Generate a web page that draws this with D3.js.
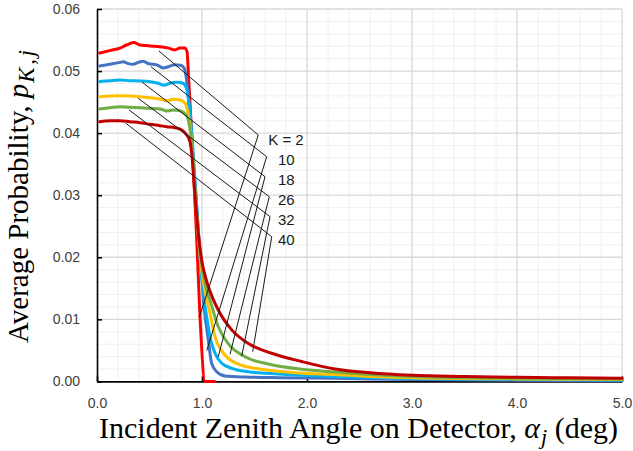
<!DOCTYPE html>
<html>
<head>
<meta charset="utf-8">
<script src="https://cdn.jsdelivr.net/npm/d3@7"></script>
<style>
  html, body { margin: 0; padding: 0; background: #ffffff; }
  svg { display: block; }
</style>
</head>
<body>
<svg id="chart" width="633" height="451"></svg>
<script>
// Average probability p(K,j) versus incident zenith angle alpha_j (deg), one series per K.
const seriesNames = ["K = 2", "10", "18", "26", "32", "40"];
const seriesColors = ["#ff0000", "#4472c4", "#00b0f0", "#ffc000", "#70ad47", "#c00000"];

const alphaK2 = [0.025, 0.12, 0.22, 0.28, 0.35, 0.41, 0.47, 0.55, 0.60, 0.68, 0.74, 0.79, 0.835, 0.858, 0.872, 0.905, 0.950, 0.981, 1.03, 1.12];
const probK2  = [0.0529, 0.0533, 0.0537, 0.0542, 0.0546, 0.0542, 0.0541, 0.0540, 0.0539, 0.0537, 0.0534, 0.0537, 0.0537, 0.0531, 0.0490, 0.0389, 0.0228, 0.0104, 0.0, 0.0];

const alphaK10 = [0.025, 0.124, 0.219, 0.25, 0.298, 0.346, 0.393, 0.441, 0.489, 0.569, 0.631, 0.679, 0.743, 0.803, 0.829, 0.850, 0.870, 0.905, 0.950, 0.990, 1.020, 1.060, 1.092, 1.14, 1.219, 1.41, 1.743, 2.267, 3.0, 4.0, 5.0];
const probK10  = [0.0508, 0.0511, 0.0514, 0.0515, 0.0512, 0.0511, 0.0514, 0.0516, 0.0512, 0.0510, 0.0505, 0.0507, 0.0510, 0.0509, 0.0505, 0.0490, 0.0455, 0.0380, 0.0280, 0.0185, 0.0120, 0.0067, 0.0029, 0.00156, 0.00087, 0.0007, 0.0006, 0.0005, 0.0003, 0.0002, 0.00012];

const alphaK18 = [0.025, 0.124, 0.219, 0.314, 0.41, 0.505, 0.584, 0.638, 0.695, 0.759, 0.819, 0.850, 0.876, 0.905, 0.943, 0.981, 1.019, 1.05, 1.076, 1.124, 1.188, 1.283, 1.441, 1.727, 2.267, 3.0, 4.0, 5.0];
const probK18  = [0.0483, 0.04845, 0.04856, 0.04845, 0.0484, 0.04828, 0.04803, 0.04771, 0.04803, 0.04819, 0.04803, 0.0473, 0.0450, 0.0395, 0.0300, 0.0200, 0.0135, 0.0098, 0.0072, 0.00453, 0.00292, 0.00211, 0.00156, 0.00119, 0.0008, 0.00045, 0.0003, 0.00022];

const alphaK26 = [0.025, 0.124, 0.219, 0.314, 0.41, 0.505, 0.60, 0.664, 0.727, 0.79, 0.838, 0.867, 0.895, 0.924, 0.962, 1.0, 1.038, 1.076, 1.124, 1.219, 1.346, 1.569, 1.886, 2.267, 2.6, 3.0, 4.0, 5.0];
const probK26  = [0.04587, 0.04598, 0.04603, 0.04598, 0.04587, 0.04571, 0.0455, 0.04522, 0.04545, 0.04534, 0.04485, 0.0432, 0.0397, 0.0330, 0.0240, 0.0175, 0.0138, 0.0110, 0.0072, 0.00425, 0.0028, 0.00195, 0.0014, 0.0011, 0.0008, 0.0006, 0.0004, 0.0003];

const alphaK32 = [0.025, 0.124, 0.219, 0.314, 0.41, 0.505, 0.60, 0.664, 0.727, 0.79, 0.850, 0.883, 0.905, 0.933, 0.971, 1.010, 1.040, 1.076, 1.155, 1.25, 1.41, 1.631, 1.95, 2.267, 2.6, 3.0, 4.0, 5.0];
const probK32  = [0.04389, 0.0441, 0.04426, 0.04416, 0.0441, 0.044, 0.04389, 0.04356, 0.04373, 0.04361, 0.0429, 0.0410, 0.0381, 0.0310, 0.0225, 0.0175, 0.0150, 0.0131, 0.0088, 0.0061, 0.00398, 0.0028, 0.00195, 0.0015, 0.0011, 0.0008, 0.0005, 0.0004];

const alphaK40 = [0.025, 0.124, 0.219, 0.314, 0.41, 0.505, 0.60, 0.664, 0.743, 0.807, 0.854, 0.886, 0.905, 0.925, 0.945, 0.965, 0.985, 1.005, 1.03, 1.06, 1.155, 1.283, 1.441, 1.664, 1.95, 2.267, 2.6, 3.0, 3.5, 4.0, 4.5, 5.0];
const probK40  = [0.04184, 0.042, 0.042, 0.04184, 0.04168, 0.04142, 0.0412, 0.04104, 0.04087, 0.0405, 0.0397, 0.0386, 0.0362, 0.0318, 0.0275, 0.0238, 0.0210, 0.0188, 0.0170, 0.0153, 0.0115, 0.0083, 0.0061, 0.00453, 0.0032, 0.0020, 0.0014, 0.0010, 0.0008, 0.00065, 0.00057, 0.0005];

const seriesAlpha = [alphaK2, alphaK10, alphaK18, alphaK26, alphaK32, alphaK40];
const seriesProb  = [probK2, probK10, probK18, probK26, probK32, probK40];

// Callout leaders (in data units): start on the plateau, bend at the label, end on the tail.
const leaderStartAlpha = [0.590, 0.514, 0.431, 0.393, 0.305, 0.276];
const leaderStartProb  = [0.05323, 0.0507, 0.04819, 0.04561, 0.04374, 0.04158];
const leaderBendAlpha  = [1.536, 1.616, 1.600, 1.641, 1.648, 1.664];
const leaderBendProb   = [0.0397, 0.0362, 0.03298, 0.02976, 0.02654, 0.02331];
const leaderEndAlpha   = [0.974, 1.045, 1.155, 1.267, 1.378, 1.483];
const leaderEndProb    = [0.01033, 0.00495, 0.00398, 0.00437, 0.00409, 0.00478];
const labelAlpha = [1.631, 1.724, 1.724, 1.724, 1.724, 1.724];
const labelProb  = [0.0389, 0.03567, 0.03245, 0.02923, 0.02601, 0.02278];

const xTickValues = [0, 1, 2, 3, 4, 5];
const yTickValues = [0, 0.01, 0.02, 0.03, 0.04, 0.05, 0.06];

const svg = d3.select("#chart");
const margin = { left: 97, top: 9, right: 11, bottom: 69.6 };
const width = 633 - margin.left - margin.right;
const height = 451 - margin.top - margin.bottom;

svg.append("rect").attr("width", 633).attr("height", 451).attr("fill", "#ffffff");

const x = d3.scaleLinear().domain([0, 5]).range([0, width]);
const y = d3.scaleLinear().domain([0, 0.06]).range([height, 0]);

const g = svg.append("g").attr("transform", `translate(${margin.left},${margin.top})`);

// Minor grid
const minorX = d3.range(0, 5.0001, 0.2).filter(v => Math.abs(v - Math.round(v)) > 1e-6);
const minorY = d3.range(0, 0.06001, 0.002).filter(v => Math.abs(v * 100 - Math.round(v * 100)) > 1e-6);
g.append("g").selectAll("line").data(minorX).join("line")
  .attr("x1", d => x(d)).attr("x2", d => x(d)).attr("y1", 0).attr("y2", height)
  .attr("stroke", "#f0f0f0").attr("stroke-width", 1);
g.append("g").selectAll("line").data(minorY).join("line")
  .attr("y1", d => y(d)).attr("y2", d => y(d)).attr("x1", 0).attr("x2", width)
  .attr("stroke", "#f0f0f0").attr("stroke-width", 1);
// Major grid
g.append("g").selectAll("line").data(xTickValues.slice(1)).join("line")
  .attr("x1", d => x(d)).attr("x2", d => x(d)).attr("y1", 0).attr("y2", height)
  .attr("stroke", "#d9d9d9").attr("stroke-width", 1.3);
g.append("g").selectAll("line").data(yTickValues.slice(1)).join("line")
  .attr("y1", d => y(d)).attr("y2", d => y(d)).attr("x1", 0).attr("x2", width)
  .attr("stroke", "#d9d9d9").attr("stroke-width", 1.3);

// Axes
const xAxis = d3.axisBottom(x).tickValues(xTickValues).tickFormat(d3.format(".1f"))
  .tickSizeInner(-5).tickSizeOuter(0).tickPadding(17);
const yAxis = d3.axisLeft(y).tickValues(yTickValues).tickFormat(d3.format(".2f"))
  .tickSizeInner(-5).tickSizeOuter(0).tickPadding(17);

const gx = g.append("g").attr("transform", `translate(0,${height})`).call(xAxis);
const gy = g.append("g").call(yAxis);
[gx, gy].forEach(a => {
  a.select(".domain").attr("stroke", "#000").attr("stroke-width", 1.6);
  a.selectAll(".tick line").attr("stroke", "#000").attr("stroke-width", 1.6);
  a.selectAll(".tick text").attr("fill", "#404040")
    .style("font-family", "'Liberation Sans', Arial, sans-serif").style("font-size", "14px");
});

// Series
const line = d3.line().x(d => x(d[0])).y(d => y(d[1])).curve(d3.curveMonotoneX);
seriesAlpha.forEach((alphas, i) => {
  const pts = alphas.map((a, k) => [a, seriesProb[i][k]]);
  g.append("path").datum(pts)
    .attr("d", line)
    .attr("fill", "none")
    .attr("stroke", seriesColors[i])
    .attr("stroke-width", 3)
    .attr("stroke-linejoin", "round")
    .attr("stroke-linecap", "round");
});

// Callout leaders
seriesNames.forEach((name, i) => {
  const pts = [
    [leaderStartAlpha[i], leaderStartProb[i]],
    [leaderBendAlpha[i], leaderBendProb[i]],
    [leaderEndAlpha[i], leaderEndProb[i]]
  ];
  g.append("path").datum(pts)
    .attr("d", d3.line().x(d => x(d[0])).y(d => y(d[1])))
    .attr("fill", "none").attr("stroke", "#1a1a1a").attr("stroke-width", 1);
  g.append("text")
    .attr("x", x(labelAlpha[i])).attr("y", y(labelProb[i]))
    .attr("dy", "0.35em")
    .style("font-family", "'Liberation Sans', Arial, sans-serif")
    .style("font-size", "15px")
    .attr("fill", "#1a1a1a")
    .text(name);
});

// Axis titles
const xTitle = svg.append("text")
  .attr("x", 99).attr("y", 438)
  .style("font-family", "'Liberation Serif', 'Times New Roman', serif")
  .style("font-size", "30px").attr("fill", "#000");
xTitle.append("tspan").text("Incident Zenith Angle on Detector, ");
xTitle.append("tspan").style("font-style", "italic").text("α");
xTitle.append("tspan").style("font-style", "italic").style("font-size", "22px").attr("dx", 1).attr("dy", 6).text("j");
xTitle.append("tspan").attr("dy", -6).text(" (deg)");

const yTitle = svg.append("text")
  .attr("transform", "translate(28,343) rotate(-90)")
  .style("font-family", "'Liberation Serif', 'Times New Roman', serif")
  .style("font-size", "29px").attr("fill", "#000");
yTitle.append("tspan").text("Average Probability, ");
yTitle.append("tspan").style("font-style", "italic").text("p");
yTitle.append("tspan").style("font-style", "italic").style("font-size", "23px")
  .style("letter-spacing", "2.5px").attr("dx", 1).attr("dy", 6).text("K,j");
</script>
</body>
</html>
